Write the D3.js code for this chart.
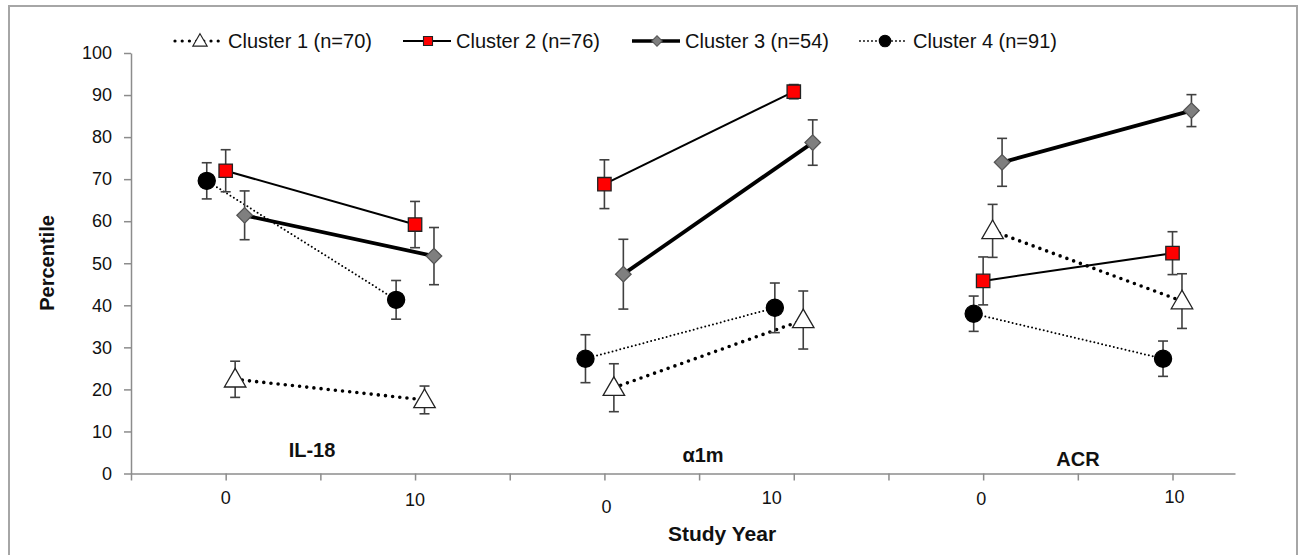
<!DOCTYPE html>
<html>
<head>
<meta charset="utf-8">
<script src="https://cdn.jsdelivr.net/npm/d3@7"></script>
<style>
  body { margin: 0; background: #fff; }
  svg text { font-family: "Liberation Sans", Arial, sans-serif; fill: #111; }
</style>
</head>
<body>
<svg id="chart" width="1302" height="555"></svg>
<script>
// Data
const panels   = ["IL-18", "α1m", "ACR"];
const years    = [0, 10];
const clusters = ["Cluster 1 (n=70)", "Cluster 2 (n=76)", "Cluster 3 (n=54)", "Cluster 4 (n=91)"];

// percentile per panel, year 0 then year 10
const c1Values = [22.4, 17.5, 20.4, 36.5, 57.7, 41.0];
const c2Values = [72.0, 59.2, 68.8, 90.8, 45.8, 52.4];
const c3Values = [61.4, 51.7, 47.4, 78.7, 74.0, 86.3];
const c4Values = [69.6, 41.3, 27.3, 39.4, 38.0, 27.3];

// error bar half-widths
const c1Errors = [4.3, 3.3, 5.7, 6.9, 6.3, 6.5];
const c2Errors = [5.0, 5.5, 5.8, 1.7, 5.7, 5.1];
const c3Errors = [5.8, 6.8, 8.3, 5.4, 5.7, 3.8];
const c4Errors = [4.3, 4.6, 5.7, 5.9, 4.2, 4.2];

// small horizontal shifts (years) so clusters do not overlap, per panel
const c1Jitter = [0.5, 0.5, 0.5];
const c2Jitter = [0, 0, 0];
const c3Jitter = [1, 1, 1];
const c4Jitter = [-1, -1, -0.5];

const yTicks = d3.range(0, 101, 10);
const xTickLabels = ["0", "10", "0", "10", "0", "10"];

const panelGap = 20;   // each panel is drawn 20 units further along the x axis

const series = [
  { name: clusters[0], values: c1Values, errors: c1Errors, jitter: c1Jitter, shape: "triangle" },
  { name: clusters[1], values: c2Values, errors: c2Errors, jitter: c2Jitter, shape: "square" },
  { name: clusters[2], values: c3Values, errors: c3Errors, jitter: c3Jitter, shape: "diamond" },
  { name: clusters[3], values: c4Values, errors: c4Errors, jitter: c4Jitter, shape: "circle" }
];

// styling
const lineStyle = [
  { width: 3.6, dash: "0 7.2", cap: "round" },
  { width: 2,   dash: null,    cap: "butt" },
  { width: 3.8, dash: null,    cap: "butt" },
  { width: 2,   dash: "0 4",   cap: "round" }
];
const markerStyle = {
  triangle: { fill: "#fff",    stroke: "#222", size: 200 },
  square:   { fill: "#ff0000", stroke: "#222", size: 180 },
  diamond:  { fill: "#7f7f7f", stroke: "#555", size: 120 },
  circle:   { fill: "#000",    stroke: "#000", size: 230 }
};
// the diamond is a square turned 45 degrees
const symbolType = {
  triangle: d3.symbolTriangle,
  square: d3.symbolSquare,
  diamond: d3.symbolSquare,
  circle: d3.symbolCircle
};
const symbolTurn = { triangle: 0, square: 0, diamond: 45, circle: 0 };

const svg = d3.select("#chart");

// frame
svg.append("rect")
  .attr("x", 9).attr("y", 6)
  .attr("width", 1288).attr("height", 560)
  .attr("fill", "#fff")
  .attr("stroke", "#a6a6a6")
  .attr("stroke-width", 2);

const x = d3.scaleLinear().domain([-5, 53.3]).range([131, 1235]);
const y = d3.scaleLinear().domain([0, 100]).range([473.5, 53]);

// axes
const gx = svg.append("g")
  .attr("transform", `translate(0,${y(0)})`)
  .call(d3.axisBottom(x).tickValues(d3.range(-5, 51, 5)).tickSize(7).tickSizeOuter(0).tickFormat(""));

const gy = svg.append("g")
  .attr("transform", `translate(${x(-5)},0)`)
  .call(d3.axisLeft(y).tickValues(yTicks).tickSize(7).tickSizeOuter(0).tickPadding(12));

[gx, gy].forEach(g => {
  g.select(".domain").attr("stroke", "#8c8c8c").attr("stroke-width", 1.5);
  g.selectAll(".tick line").attr("stroke", "#8c8c8c").attr("stroke-width", 1.5);
});
gy.selectAll(".tick text")
  .attr("font-size", 18)
  .attr("font-family", "Liberation Sans, Arial, sans-serif")
  .attr("fill", "#111");

// study-year labels under each panel (placed by hand in the original, hence the nudges)
const labelNudge = [[0, 0], [0, 2], [2, 9], [-22, 0], [-2, 1], [2, -1]];
svg.append("g").selectAll("text")
  .data(xTickLabels)
  .join("text")
  .attr("x", (d, i) => x(Math.floor(i / 2) * panelGap + years[i % 2]) + labelNudge[i][0])
  .attr("y", (d, i) => 504 + labelNudge[i][1])
  .attr("text-anchor", "middle")
  .attr("font-size", 18)
  .text(d => d);

// axis titles
svg.append("text")
  .attr("transform", "translate(54,263) rotate(-90)")
  .attr("text-anchor", "middle")
  .attr("font-size", 20)
  .attr("font-weight", "bold")
  .text("Percentile");

svg.append("text")
  .attr("x", 722).attr("y", 541)
  .attr("text-anchor", "middle")
  .attr("font-size", 21)
  .attr("font-weight", "bold")
  .text("Study Year");

// panel names
const panelLabelPos = [[312, 457], [703, 462], [1078, 466]];
svg.append("g").selectAll("text")
  .data(panels)
  .join("text")
  .attr("x", (d, i) => panelLabelPos[i][0])
  .attr("y", (d, i) => panelLabelPos[i][1])
  .attr("text-anchor", "middle")
  .attr("font-size", 20)
  .attr("font-weight", "bold")
  .text(d => d);

// build points
const points = series.map((s, si) => panels.map((p, pi) => years.map((yr, yi) => ({
  series: si,
  shape: s.shape,
  xv: pi * panelGap + yr + s.jitter[pi],
  v: s.values[pi * 2 + yi],
  e: s.errors[pi * 2 + yi]
}))));

const plot = svg.append("g");

// connecting lines
points.forEach((sp, si) => {
  sp.forEach(pair => {
    const st = lineStyle[si];
    plot.append("line")
      .attr("x1", x(pair[0].xv)).attr("y1", y(pair[0].v))
      .attr("x2", x(pair[1].xv)).attr("y2", y(pair[1].v))
      .attr("stroke", "#000")
      .attr("stroke-width", st.width)
      .attr("stroke-linecap", st.cap)
      .attr("stroke-dasharray", st.dash);
  });
});

const flat = points.flat(2);

// error bars
const capW = 5;
const eb = plot.append("g")
  .attr("stroke", "#404040")
  .attr("stroke-width", 1.6)
  .selectAll("g")
  .data(flat)
  .join("g");
eb.append("line")
  .attr("x1", d => x(d.xv)).attr("x2", d => x(d.xv))
  .attr("y1", d => y(d.v - d.e)).attr("y2", d => y(d.v + d.e));
eb.append("line")
  .attr("x1", d => x(d.xv) - capW).attr("x2", d => x(d.xv) + capW)
  .attr("y1", d => y(d.v + d.e)).attr("y2", d => y(d.v + d.e));
eb.append("line")
  .attr("x1", d => x(d.xv) - capW).attr("x2", d => x(d.xv) + capW)
  .attr("y1", d => y(d.v - d.e)).attr("y2", d => y(d.v - d.e));

// markers
plot.append("g").selectAll("path")
  .data(flat)
  .join("path")
  .attr("transform", d => `translate(${x(d.xv)},${y(d.v) + (d.shape === "triangle" ? 1.5 : 0)}) rotate(${symbolTurn[d.shape]})`)
  .attr("d", d => d3.symbol().type(symbolType[d.shape]).size(markerStyle[d.shape].size)())
  .attr("fill", d => markerStyle[d.shape].fill)
  .attr("stroke", d => markerStyle[d.shape].stroke)
  .attr("stroke-width", 1.3);

// legend
const legendX = [175, 403, 632, 860];
const legendY = 41;
const legendItems = svg.append("g").selectAll("g")
  .data(series)
  .join("g")
  .attr("transform", (d, i) => `translate(${legendX[i]},${legendY})`);

legendItems.append("line")
  .attr("x1", 0).attr("x2", 48)
  .attr("stroke", "#000")
  .attr("stroke-width", (d, i) => lineStyle[i].width * 0.9)
  .attr("stroke-linecap", (d, i) => lineStyle[i].cap)
  .attr("stroke-dasharray", (d, i) => lineStyle[i].dash);

legendItems.append("path")
  .attr("transform", d => `translate(25,${d.shape === "triangle" ? 1 : 0}) rotate(${symbolTurn[d.shape]})`)
  .attr("d", d => d3.symbol().type(symbolType[d.shape]).size(markerStyle[d.shape].size * 0.45)())
  .attr("fill", d => markerStyle[d.shape].fill)
  .attr("stroke", d => markerStyle[d.shape].stroke)
  .attr("stroke-width", 1.1);

legendItems.append("text")
  .attr("x", 53)
  .attr("y", 7)
  .attr("font-size", 20)
  .text(d => d.name);
</script>
</body>
</html>
